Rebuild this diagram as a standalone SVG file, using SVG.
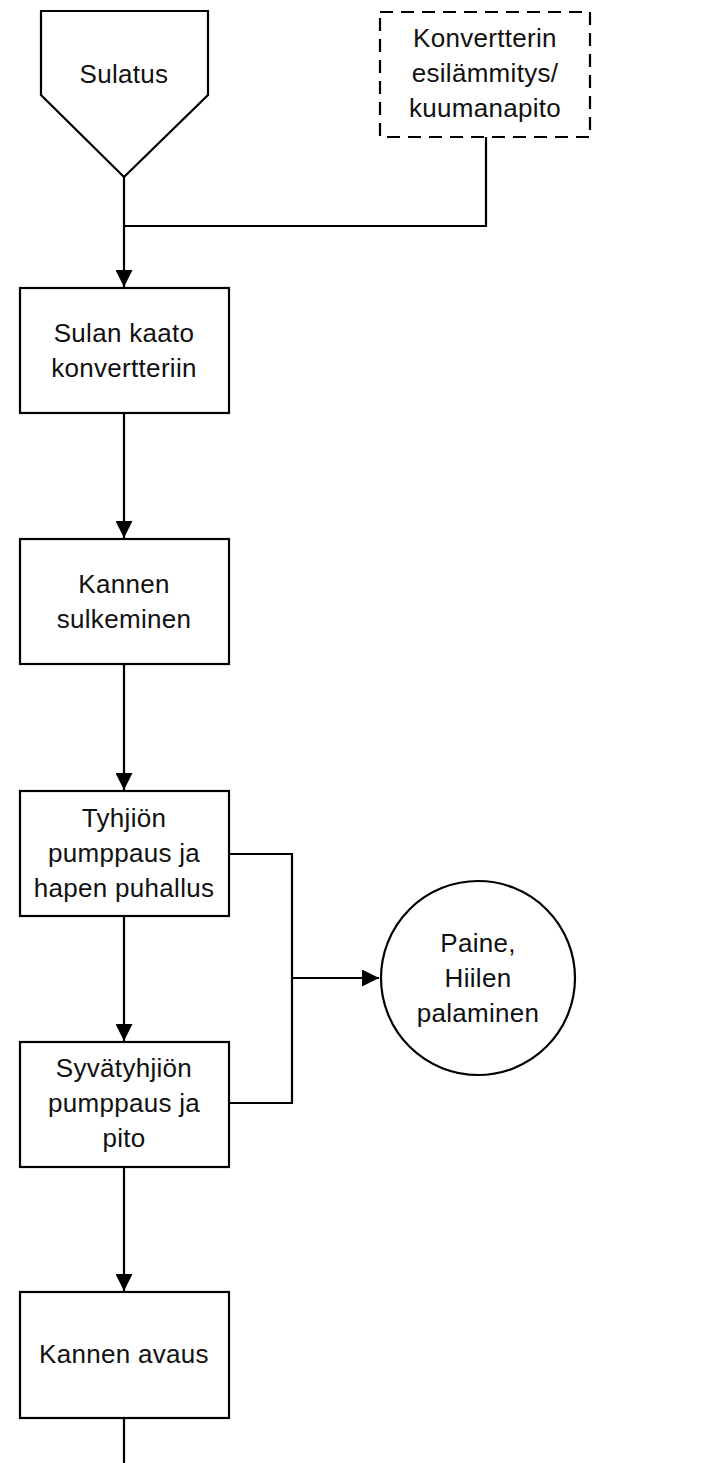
<svg xmlns="http://www.w3.org/2000/svg" width="725" height="1463" viewBox="0 0 725 1463">
  <style>
    .shape { fill: #ffffff; stroke: #000000; stroke-width: 2.2; }
    .dashed { stroke-dasharray: 13 8; }
    .line { fill: none; stroke: #000000; stroke-width: 2.2; }
    .label { font-family: "Liberation Sans", Arial, sans-serif; font-size: 26px; fill: #111111; text-anchor: middle; letter-spacing: 0.3px; }
  </style>
  <defs>
    <marker id="arrow" markerUnits="userSpaceOnUse" markerWidth="17" markerHeight="17" refX="17" refY="8.5" orient="auto">
      <path d="M0,0 L17,8.5 L0,17 z" fill="#000000"/>
    </marker>
  </defs>
  <rect x="0" y="0" width="725" height="1463" fill="#ffffff"/>

  <g id="connectors">
    <path class="line" d="M124,177 L124,287" marker-end="url(#arrow)"/>
    <path class="line" d="M486,137 L486,226 L124,226"/>
    <path class="line" d="M124,413 L124,538" marker-end="url(#arrow)"/>
    <path class="line" d="M124,664 L124,790" marker-end="url(#arrow)"/>
    <path class="line" d="M124,916 L124,1041" marker-end="url(#arrow)"/>
    <path class="line" d="M124,1167 L124,1291" marker-end="url(#arrow)"/>
    <path class="line" d="M124,1418 L124,1463"/>
    <path class="line" d="M229,854 L292,854 L292,1103 L229,1103"/>
    <path class="line" d="M292,978 L379,978" marker-end="url(#arrow)"/>
  </g>

  <g id="sulatus">
    <path class="shape" d="M41,11 L208,11 L208,95 L124,177 L41,95 z"/>
    <text class="label" x="124" y="83">Sulatus</text>
  </g>

  <g id="esilammitys">
    <rect class="shape dashed" x="380" y="12" width="210" height="125"/>
    <text class="label" x="485" y="47">Konvertterin</text>
    <text class="label" x="485" y="82">esilämmitys/</text>
    <text class="label" x="485" y="117">kuumanapito</text>
  </g>

  <g id="kaato">
    <rect class="shape" x="20" y="288" width="209" height="125"/>
    <text class="label" x="124" y="342">Sulan kaato</text>
    <text class="label" x="124" y="377">konvertteriin</text>
  </g>

  <g id="sulkeminen">
    <rect class="shape" x="20" y="539" width="209" height="125"/>
    <text class="label" x="124" y="593">Kannen</text>
    <text class="label" x="124" y="628">sulkeminen</text>
  </g>

  <g id="tyhjio">
    <rect class="shape" x="20" y="791" width="209" height="125"/>
    <text class="label" x="124" y="827">Tyhjiön</text>
    <text class="label" x="124" y="862">pumppaus ja</text>
    <text class="label" x="124" y="897">hapen puhallus</text>
  </g>

  <g id="syvatyhjio">
    <rect class="shape" x="20" y="1042" width="209" height="125"/>
    <text class="label" x="124" y="1077">Syvätyhjiön</text>
    <text class="label" x="124" y="1112">pumppaus ja</text>
    <text class="label" x="124" y="1147">pito</text>
  </g>

  <g id="avaus">
    <rect class="shape" x="20" y="1292" width="209" height="126"/>
    <text class="label" x="124" y="1363">Kannen avaus</text>
  </g>

  <g id="paine">
    <circle class="shape" cx="478" cy="978" r="97"/>
    <text class="label" x="478" y="952">Paine,</text>
    <text class="label" x="478" y="987">Hiilen</text>
    <text class="label" x="478" y="1022">palaminen</text>
  </g>
</svg>
